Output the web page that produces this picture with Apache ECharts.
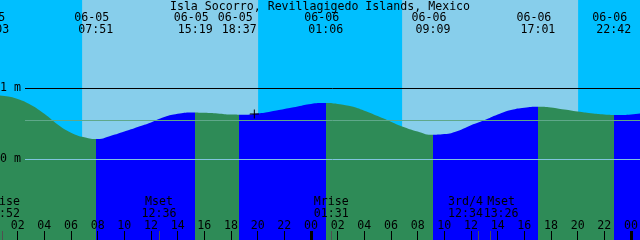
<!DOCTYPE html>
<html><head><meta charset="utf-8">
<script src="https://cdn.jsdelivr.net/npm/echarts@6/dist/echarts.min.js"></script>
<style>html,body{margin:0;padding:0;background:#fff}#c{width:640px;height:240px}</style>
</head><body><div id="c"></div>
<script>
// ---- data ----
const title = 'Isla Socorro, Revillagigedo Islands, Mexico';
const startDate = '06-05';
// hourly tide level (m) from 06-05 00:00
const hours = [0,1,2,3,4,5,6,7,8,9,10,11,12,13,14,15,16,17,18,19,20,21,22,23,24,25,26,27,28,29,30,31,32,33,34,35,36,37,38,39,40,41,42,43,44,45,46,47,48,49];
const levels = [0.91,0.89,0.85,0.765,0.64,0.49,0.375,0.31,0.285,0.33,0.39,0.455,0.52,0.595,0.64,0.66,0.655,0.645,0.63,0.628,0.645,0.675,0.71,0.745,0.78,0.792,0.78,0.746,0.685,0.61,0.53,0.45,0.39,0.345,0.355,0.40,0.48,0.55,0.63,0.694,0.727,0.74,0.73,0.70,0.672,0.648,0.632,0.624,0.632,0.652];
const tideDates = ['06-05','06-05','06-05','06-05','06-06','06-06','06-06','06-06'];
const tideTimes = ['00:03','07:51','15:19','18:37','01:06','09:09','17:01','22:42'];
const moonNames = ['Mrise','Mset','Mrise','3rd/4','Mset'];
const moonDates = ['06-05','06-05','06-06','06-06','06-06'];
const moonTimes = ['00:52','12:36','01:31','12:34','13:26'];
const dayDates = ['06-05','06-06'];
const dayStart = ['06:50','06:50'];
const dayEnd = ['20:02','20:02'];
const tickHours = [2,4,6,8,10,12,14,16,18,20,22,24,26,28,30,32,34,36,38,40,42,44,46,48];
const levelLabels = ['1 m','0 m'];
const levelValues = [1, 0];
const meanLevel = 0.55;
const nowMark = ['06-05','19:45'];
const nowLevel = 0.638;
const viewStart = 0.675, viewEnd = 48.675;
const yMin = -1.137, yMax = 2.244;

// ---- helpers ----
function toH(date, time){
  const day = date === startDate ? 0 : 1;
  const [h,m] = time.split(':').map(Number);
  return day*24 + h + m/60;
}
const tideH = tideTimes.map((t,i)=>toH(tideDates[i], t));
const moonH = moonTimes.map((t,i)=>toH(moonDates[i], t));
const FONT = '11.6px "DejaVu Sans Mono", "Liberation Mono", monospace';

// flood (rising) = blue, ebb (falling) = sea green
const pieces = [];
const cols = ['#0000FF','#2E8B57'];
let prev = -Infinity;
tideH.forEach((h,i)=>{ pieces.push({gte: prev, lt: h, color: cols[i%2]}); prev = h; });
pieces.push({gte: prev, lt: Infinity, color: cols[tideH.length%2]});

const dayAreas = dayDates.map((d,i)=>[{xAxis: toH(d, dayStart[i])},{xAxis: toH(d, dayEnd[i])}]);

const chart = echarts.init(document.getElementById('c'), null, {renderer:'canvas'});
chart.setOption({
  animation: false,
  grid: {left:0, right:0, top:0, bottom:0, show:true, backgroundColor:'#00BFFF', borderWidth:0},
  xAxis: {type:'value', min:viewStart, max:viewEnd, show:false},
  yAxis: {type:'value', min:yMin, max:yMax, show:false},
  visualMap: {type:'piecewise', show:false, dimension:0, seriesIndex:1, pieces: pieces},
  series: [
    {type:'line', data:[], z:1, silent:true,
     markArea:{silent:true, itemStyle:{color:'#87CEEB', opacity:1}, data: dayAreas}},
    {type:'line', z:2, smooth:0.5, showSymbol:false, silent:true,
     data: hours.map((h,i)=>[h, levels[i]]),
     lineStyle:{width:0},
     areaStyle:{opacity:1, origin:'start'}},
    {type:'scatter', z:5, silent:true,
     data:[[toH(nowMark[0], nowMark[1]), nowLevel]],
     symbol:'path://M4,0h1v9h-1z M0,4h9v1h-9z', symbolSize:9,
     itemStyle:{color:'#000', opacity:1}}
  ]
});

const px = (t,v)=>chart.convertToPixel({gridIndex:0},[t,v]);
const g = [];
const text = (s,x,y,align)=>g.push({type:'text', z:100, silent:true,
  style:{text:s, x:x, y:y, fill:'#000', font:FONT, align:align||'center', verticalAlign:'middle'}});
const hline = (y,x1,color)=>g.push({type:'line', z:90, silent:true,
  shape:{x1:x1, y1:Math.round(y)+0.5, x2:640, y2:Math.round(y)+0.5}, style:{stroke:color, lineWidth:1}});

// title
text(title, 320, 6.5);
// level lines
levelValues.forEach((v,i)=>{
  const y = px(viewStart, v)[1];
  hline(y, 25, v === 1 ? '#000' : '#80C4DE');
  text(levelLabels[i], 0, y, 'left');
});
hline(px(viewStart, meanLevel)[1], 25, '#5FA88A');

// tide event labels
tideH.forEach((h,i)=>{
  const x = px(h,0)[0];
  text(tideDates[i], x-4, 17.5);
  text(tideTimes[i], x, 29.7);
});
// moon event labels + grey ticks
const moonShift = [0,0,0,-13,11];
moonH.forEach((h,i)=>{
  const x = px(h,0)[0];
  text(moonNames[i], x+moonShift[i], 202);
  text(moonTimes[i], x+moonShift[i], 213.8);
  const xr = Math.floor(x)+0.5;
  g.push({type:'line', z:95, silent:true, shape:{x1:xr,y1:231,x2:xr,y2:240}, style:{stroke:'#505050', lineWidth:1}});
});
// hour ticks & labels
tickHours.forEach(h=>{
  const x = px(h,0)[0];
  const lbl = String(h%24).padStart(2,'0');
  text(lbl, x, 226);
  if (h%24 === 0) {
    g.push({type:'rect', z:96, silent:true, shape:{x:Math.floor(x)-1, y:231, width:3, height:9}, style:{fill:'#000'}});
  } else {
    const xr = Math.floor(x)+0.5;
    g.push({type:'line', z:96, silent:true, shape:{x1:xr,y1:231,x2:xr,y2:240}, style:{stroke:'#000', lineWidth:1}});
  }
});
chart.setOption({graphic: g});
</script>
</body></html>
